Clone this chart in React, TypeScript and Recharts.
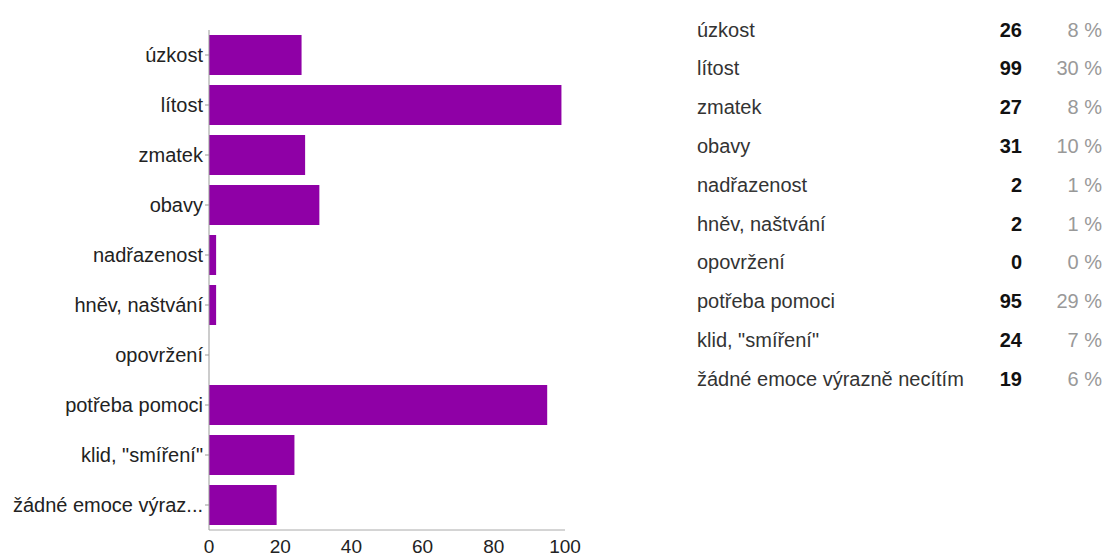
import React from 'react';
import { BarChart, Bar, XAxis, YAxis } from 'recharts';

const categories = [
  'úzkost',
  'lítost',
  'zmatek',
  'obavy',
  'nadřazenost',
  'hněv, naštvání',
  'opovržení',
  'potřeba pomoci',
  'klid, "smíření"',
  'žádné emoce výrazně necítím',
];
const axisLabels = [
  'úzkost',
  'lítost',
  'zmatek',
  'obavy',
  'nadřazenost',
  'hněv, naštvání',
  'opovržení',
  'potřeba pomoci',
  'klid, "smíření"',
  'žádné emoce výraz...',
];
const counts = [26, 99, 27, 31, 2, 2, 0, 95, 24, 19];
const percents = ['8 %', '30 %', '8 %', '10 %', '1 %', '1 %', '0 %', '29 %', '7 %', '6 %'];
const xTicks = [0, 20, 40, 60, 80, 100];

const data = axisLabels.map((name, i) => ({ name, value: counts[i] }));

const FONT = '"Liberation Sans", Arial, Helvetica, sans-serif';

export default function App() {
  return (
    <div
      style={{
        position: 'absolute',
        left: 0,
        top: 0,
        width: 1105,
        height: 559,
        background: '#fff',
        fontFamily: FONT,
      }}
    >
      <BarChart
        width={600}
        height={559}
        layout="vertical"
        data={data}
        margin={{ top: 30, right: 35, bottom: 0, left: 0 }}
        barCategoryGap="10%"
      >
        <XAxis
          type="number"
          domain={[0, 100]}
          ticks={xTicks}
          height={29}
          tickLine={false}
          tickSize={0}
          tickMargin={10}
          axisLine={{ stroke: '#aaa' }}
          tick={{ fill: '#222', fontSize: 19 }}
        />
        <YAxis
          type="category"
          dataKey="name"
          width={209}
          interval={0}
          tickSize={4}
          tickMargin={2}
          axisLine={{ stroke: '#999' }}
          tickLine={{ stroke: '#999' }}
          tick={{ fill: '#222', fontSize: 20 }}
        />
        <Bar dataKey="value" fill="#8f00a6" isAnimationActive={false} />
      </BarChart>
      <svg
        width={1105}
        height={559}
        style={{ position: 'absolute', left: 0, top: 0, pointerEvents: 'none' }}
      >
        {categories.map((c, i) => {
          const y = 36.5 + i * 38.8;
          return (
            <g key={c} fontFamily={FONT} fontSize={20}>
              <text x={697} y={y} fill="#333">
                {c}
              </text>
              <text x={1022} y={y} fill="#111" fontWeight="bold" textAnchor="end">
                {counts[i]}
              </text>
              <text x={1102} y={y} fill="#999" textAnchor="end">
                {percents[i]}
              </text>
            </g>
          );
        })}
      </svg>
    </div>
  );
}
